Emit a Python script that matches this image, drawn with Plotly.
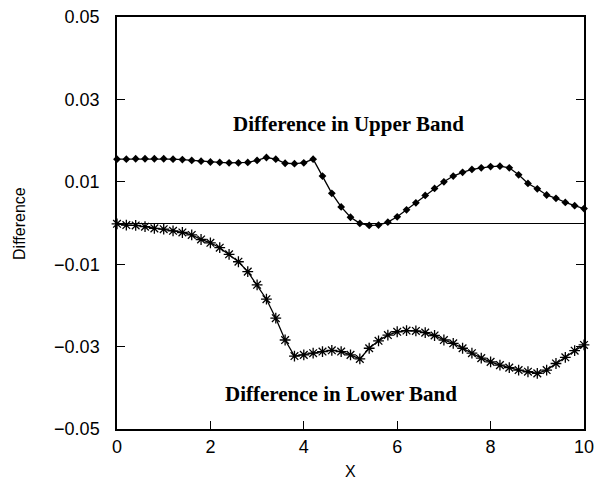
import plotly.graph_objects as go

x_vals = [0.0, 0.2, 0.4, 0.6, 0.8, 1.0, 1.2, 1.4, 1.6, 1.8,
          2.0, 2.2, 2.4, 2.6, 2.8, 3.0, 3.2, 3.4, 3.6, 3.8,
          4.0, 4.2, 4.4, 4.6, 4.8, 5.0, 5.2, 5.4, 5.6, 5.8,
          6.0, 6.2, 6.4, 6.6, 6.8, 7.0, 7.2, 7.4, 7.6, 7.8,
          8.0, 8.2, 8.4, 8.6, 8.8, 9.0, 9.2, 9.4, 9.6, 9.8, 10.0]

upper_band = [0.0155, 0.0155, 0.0156, 0.0156, 0.0156, 0.0156, 0.0155, 0.0154, 0.0152, 0.0150,
              0.0148, 0.0147, 0.0146, 0.0146, 0.0147, 0.0152, 0.0159, 0.0155, 0.0145, 0.0144,
              0.0146, 0.0155, 0.0114, 0.0072, 0.0039, 0.0014, -0.0001, -0.0006, -0.0005, 0.0002,
              0.0015, 0.0032, 0.0049, 0.0067, 0.0084, 0.0100, 0.0114, 0.0123, 0.0130, 0.0134,
              0.0137, 0.0138, 0.0134, 0.0117, 0.0096, 0.0083, 0.0068, 0.0060, 0.0050, 0.0042, 0.0035]

lower_band = [-0.0002, -0.0005, -0.0006, -0.0009, -0.0013, -0.0015, -0.0019, -0.0023, -0.0029, -0.0040,
              -0.0048, -0.0060, -0.0076, -0.0094, -0.0118, -0.0150, -0.0185, -0.0231, -0.0284, -0.0323,
              -0.0320, -0.0316, -0.0312, -0.0309, -0.0312, -0.0320, -0.0330, -0.0304, -0.0286, -0.0272,
              -0.0264, -0.0261, -0.0262, -0.0266, -0.0273, -0.0284, -0.0292, -0.0304, -0.0316, -0.0328,
              -0.0337, -0.0345, -0.0351, -0.0357, -0.0361, -0.0365, -0.0357, -0.0341, -0.0326, -0.0310, -0.0296]

x_ticks = [0, 2, 4, 6, 8, 10]
y_ticks = [-0.05, -0.03, -0.01, 0.01, 0.03, 0.05]
y_tick_text = ["\u22120.05", "\u22120.03", "\u22120.01", "0.01", "0.03", "0.05"]

upper_label = "Difference in Upper Band"
lower_label = "Difference in Lower Band"
x_title = "X"
y_title = "Difference"

fig = go.Figure()
fig.add_trace(go.Scatter(
    x=x_vals, y=upper_band, mode="lines+markers",
    line=dict(color="black", width=1.3),
    marker=dict(symbol="diamond", size=6, color="black"),
    showlegend=False, cliponaxis=False))
fig.add_trace(go.Scatter(
    x=x_vals, y=lower_band, mode="lines+markers",
    line=dict(color="black", width=1.3),
    marker=dict(symbol="asterisk-open", size=9, line=dict(color="black", width=1.3)),
    showlegend=False, cliponaxis=False))

fig.add_annotation(x=4.95, y=0.0240, xref="x", yref="y", text=upper_label, showarrow=False,
                   font=dict(family="Liberation Serif", size=21, color="black", weight="bold"))
fig.add_annotation(x=4.8, y=-0.0415, xref="x", yref="y", text=lower_label, showarrow=False,
                   font=dict(family="Liberation Serif", size=21, color="black", weight="bold"))
fig.add_annotation(x=0.5, y=-0.104, xref="paper", yref="paper", text=x_title, showarrow=False,
                   xanchor="center", yanchor="middle",
                   font=dict(family="Liberation Sans", size=16, color="black"))
fig.add_annotation(x=-0.21, y=0.5, xref="paper", yref="paper", text=y_title, showarrow=False,
                   xanchor="center", yanchor="middle", textangle=-90,
                   font=dict(family="Liberation Sans", size=16, color="black"))

fig.update_xaxes(range=[0, 10], tickvals=x_ticks, ticks="inside", ticklen=8, tickwidth=1.2,
                 tickcolor="black", showline=True, linecolor="black", linewidth=1.5, mirror=True,
                 showgrid=False, zeroline=False, ticklabelstandoff=1, automargin=False,
                 ticklabeloverflow="allow",
                 tickfont=dict(family="Liberation Sans", size=18, color="black"))
fig.update_yaxes(range=[-0.05, 0.05], tickvals=y_ticks, ticktext=y_tick_text, ticks="inside",
                 ticklen=8, tickwidth=1.2, tickcolor="black", showline=True, linecolor="black",
                 linewidth=1.5, mirror="ticks", showgrid=False, zeroline=True,
                 zerolinecolor="black", zerolinewidth=1.2, ticklabelstandoff=12, automargin=False,
                 ticklabeloverflow="allow",
                 tickfont=dict(family="Liberation Sans", size=18, color="black"))

fig.update_layout(width=597, height=494, paper_bgcolor="white", plot_bgcolor="white",
                  margin=dict(l=117, r=13, t=17, b=65))
fig.write_html("out.html", config={"displayModeBar": False},
               post_script="document.body.style.margin='0';document.body.style.overflow='hidden';")
